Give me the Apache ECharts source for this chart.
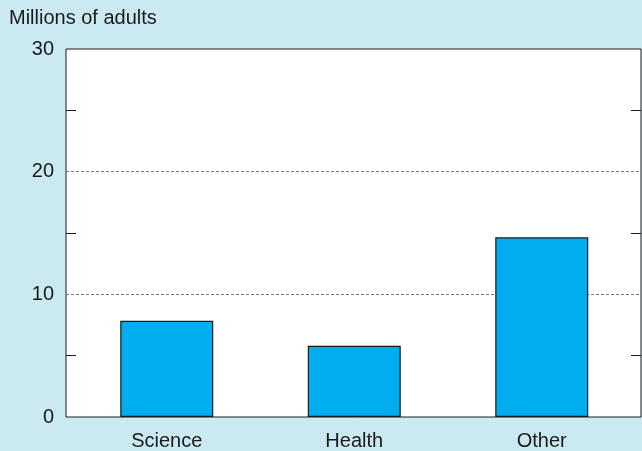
<!DOCTYPE html>
<html>
<head>
<meta charset="utf-8">
<script src="https://cdn.jsdelivr.net/npm/echarts@6/dist/echarts.min.js"></script>
<style>
html,body{margin:0;padding:0;background:#cbe9f1;}
#chart{width:642px;height:451px;}
</style>
</head>
<body>
<div id="chart"></div>
<script>
const categories = ['Science', 'Health', 'Other'];
const values = [7.85, 5.8, 14.65];
const yTicks = [0, 10, 20, 30];
const yTitle = 'Millions of adults';

const FONT = '"Liberation Sans", Arial, Helvetica, sans-serif';
const chart = echarts.init(document.getElementById('chart'), null, {renderer: 'canvas'});

const yCommon = {
  type: 'value', min: yTicks[0], max: yTicks[yTicks.length - 1], interval: 10,
  axisLine: {show: false},
  axisTick: {show: false, inside: true},
  minorTick: {show: true, splitNumber: 2, length: 10, lineStyle: {color: '#1a1a1a', width: 1}},
  minorSplitLine: {show: false}
};

chart.setOption({
  backgroundColor: '#cbe9f1',
  animation: false,
  title: {
    text: yTitle, left: 4, top: 3,
    textStyle: {fontFamily: FONT, fontSize: 20, fontWeight: 'normal', color: '#1a1a1a'}
  },
  grid: [
    {left: 66, right: 1, top: 49, bottom: 34, show: true, backgroundColor: '#ffffff', borderColor: '#1a1a1a', borderWidth: 1},
    {left: 73, right: 6.5, top: 49, bottom: 34}
  ],
  xAxis: [
    {gridIndex: 0, type: 'value', min: 0, max: 1, show: false},
    {gridIndex: 1, type: 'category', data: categories,
     axisLine: {show: false}, axisTick: {show: false},
     axisLabel: {fontFamily: FONT, fontSize: 20, color: '#1a1a1a', margin: 14}}
  ],
  yAxis: [
    Object.assign({}, yCommon, {
      gridIndex: 0, position: 'left',
      axisLabel: {fontFamily: FONT, fontSize: 20, color: '#1a1a1a', margin: 12, padding: [0, 0, 7, 0]},
      splitLine: {show: true, lineStyle: {color: ['rgba(0,0,0,0)', '#7a7a7a', '#7a7a7a', 'rgba(0,0,0,0)'], type: [3, 2], width: 1}}
    }),
    Object.assign({}, yCommon, {
      gridIndex: 0, position: 'right',
      axisLabel: {show: false},
      splitLine: {show: false}
    }),
    {gridIndex: 1, type: 'value', min: 0, max: 30, show: false}
  ],
  series: [{
    type: 'bar', xAxisIndex: 1, yAxisIndex: 2,
    data: values, barWidth: 93,
    itemStyle: {color: '#00aeef', borderColor: '#1a1a1a', borderWidth: 1.2}
  }]
});
</script>
</body>
</html>
